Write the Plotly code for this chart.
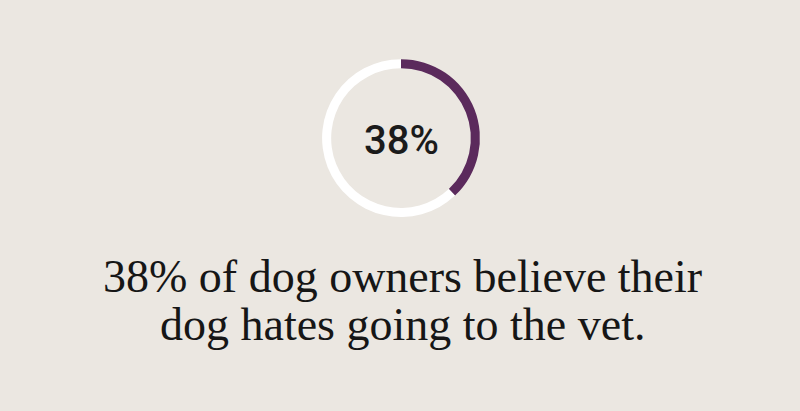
import plotly.graph_objects as go

# data
labels = ["Believe dog hates the vet", "Others"]
values = [38, 62]
colors = ["#5b2a5c", "#ffffff"]
center_text = "38%"
headline = ["38% of dog owners believe their", "dog hates going to the vet."]

bg = "#ebe7e1"

fig = go.Figure(go.Pie(
    labels=labels,
    values=values,
    hole=0.885,
    sort=False,
    direction="clockwise",
    rotation=0,
    marker=dict(colors=colors, line=dict(width=0)),
    textinfo="none",
    hoverinfo="label+percent",
    showlegend=False,
    domain=dict(x=[0.4025, 0.6], y=[0.472, 0.856]),
))

# number in the middle of the ring
fig.add_annotation(
    x=401, y=411 - 140, xref="x", yref="y",
    text=center_text, showarrow=False,
    font=dict(family="Roboto, Liberation Sans, sans-serif", size=40, color="#1b1b1b", weight=500),
    xanchor="center", yanchor="middle",
)

# headline, two lines placed separately for tight leading
for i, line in enumerate(headline):
    fig.add_annotation(
        x=402, y=411 - (276 + 48 * i), xref="x", yref="y",
        text=line, showarrow=False,
        font=dict(family="Liberation Serif, DejaVu Serif, serif", size=46, color="#161616"),
        xanchor="center", yanchor="middle",
    )

fig.update_xaxes(range=[0, 800], visible=False)
fig.update_yaxes(range=[0, 411], visible=False)
fig.update_layout(
    width=800, height=411,
    margin=dict(l=0, r=0, t=0, b=0),
    paper_bgcolor=bg, plot_bgcolor=bg,
)

fig.write_html(
    "out.html",
    config={"displayModeBar": False},
    post_script="document.body.style.margin='0';document.body.style.overflow='hidden';",
)
